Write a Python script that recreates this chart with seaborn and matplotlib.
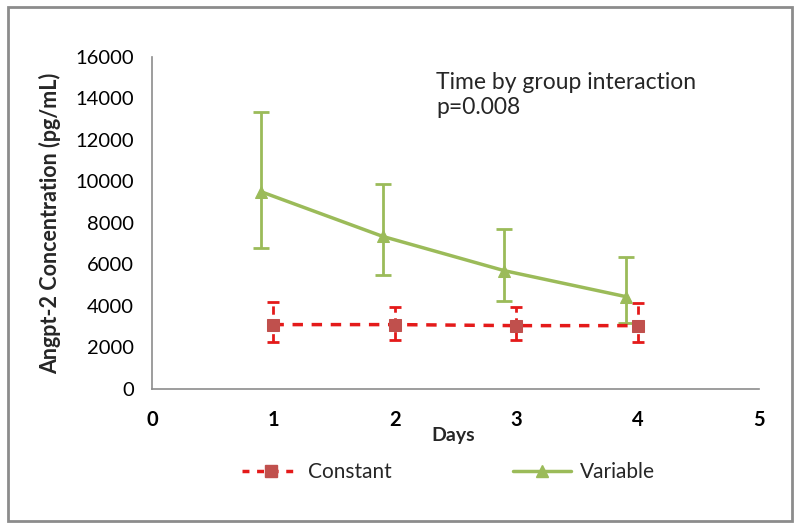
import numpy as np
import pandas as pd
import seaborn as sns
import matplotlib.pyplot as plt
from matplotlib.patches import Rectangle
from matplotlib.lines import Line2D

# values
days_const = [1, 2, 3, 4]
const_mean = [3100, 3100, 3050, 3050]
const_upper = [4200, 3970, 3970, 4130]
const_lower = [2270, 2360, 2360, 2250]

days_var = [0.9, 1.9, 2.9, 3.9]
var_mean = [9500, 7350, 5700, 4450]
var_upper = [13350, 9880, 7710, 6350]
var_lower = [6780, 5490, 4250, 3170]

green = "#9BBB59"
red_line = "#E41A1A"
red_marker = "#C0504D"

sns.set_theme(style="white")
plt.rcParams["font.family"] = ["Lato", "DejaVu Sans"]

df = pd.DataFrame({
    "day": days_const + days_var,
    "conc": const_mean + var_mean,
    "group": ["Constant"] * 4 + ["Variable"] * 4,
})

fig = plt.figure(figsize=(8, 5.27), dpi=100)
ax = fig.add_axes([0.19, 0.262, 0.759, 0.63])

# error bars first
eb = ax.errorbar(days_const, const_mean,
                 yerr=[np.subtract(const_mean, const_lower), np.subtract(const_upper, const_mean)],
                 fmt="none", ecolor=red_line, elinewidth=2, capsize=4, capthick=2, zorder=2)
eb[2][0].set_linestyle((0, (3, 2)))
ax.errorbar(days_var, var_mean,
            yerr=[np.subtract(var_mean, var_lower), np.subtract(var_upper, var_mean)],
            fmt="none", ecolor=green, elinewidth=2, capsize=6, capthick=2, zorder=2)

sns.lineplot(data=df[df.group == "Constant"], x="day", y="conc", ax=ax,
             color=red_line, linewidth=2.5, linestyle=(0, (3, 2.5)), marker="s",
             markersize=9, markerfacecolor=red_marker, markeredgecolor=red_marker,
             legend=False, zorder=3)
sns.lineplot(data=df[df.group == "Variable"], x="day", y="conc", ax=ax,
             color=green, linewidth=2.5, marker="^", markersize=9,
             markerfacecolor=green, markeredgecolor=green, legend=False, zorder=3)

ax.set_xlim(0, 5)
ax.set_ylim(0, 16000)
ax.set_xticks(range(0, 6))
ax.set_yticks(range(0, 16001, 2000))
for s in ["top", "right"]:
    ax.spines[s].set_visible(False)
for s in ["left", "bottom"]:
    ax.spines[s].set_color("#8C8C8C")
    ax.spines[s].set_linewidth(1.2)
ax.tick_params(axis="both", direction="out", length=5, width=1, color="#8C8C8C",
               labelsize=14.5, labelcolor="black")
ax.tick_params(axis="y", pad=8)
ax.tick_params(axis="x", pad=10)
for lab in ax.get_xticklabels():
    lab.set_fontweight("bold")

ax.set_ylabel("Angpt-2 Concentration (pg/mL)", fontsize=15.5, fontweight="bold", labelpad=10)
ax.set_xlabel("Days", fontsize=14, fontweight="bold")
ax.xaxis.set_label_coords(0.496, -0.115)

ax.text(0.468, 0.955, "Time by group interaction\np=0.008", transform=ax.transAxes,
        fontsize=16.5, va="top", ha="left", linespacing=1.25)

handles = [
    Line2D([], [], color=red_line, linewidth=2.5, linestyle=(0, (2, 2.2)), marker="s",
           markersize=8, markerfacecolor=red_marker, markeredgecolor=red_marker),
    Line2D([], [], color=green, linewidth=2.5, marker="^", markersize=8,
           markerfacecolor=green, markeredgecolor=green),
]
fig.legend(handles, ["Constant", "Variable"], loc="center", bbox_to_anchor=(0.56, 0.104),
           ncol=2, frameon=False, fontsize=15, handlelength=2.8, columnspacing=5.8,
           handletextpad=0.4)

fig.patches.append(Rectangle((0.01, 0.012), 0.98, 0.975, transform=fig.transFigure,
                             fill=False, edgecolor="#8C8C8C", linewidth=2))

fig.savefig("out.png", dpi=100)
